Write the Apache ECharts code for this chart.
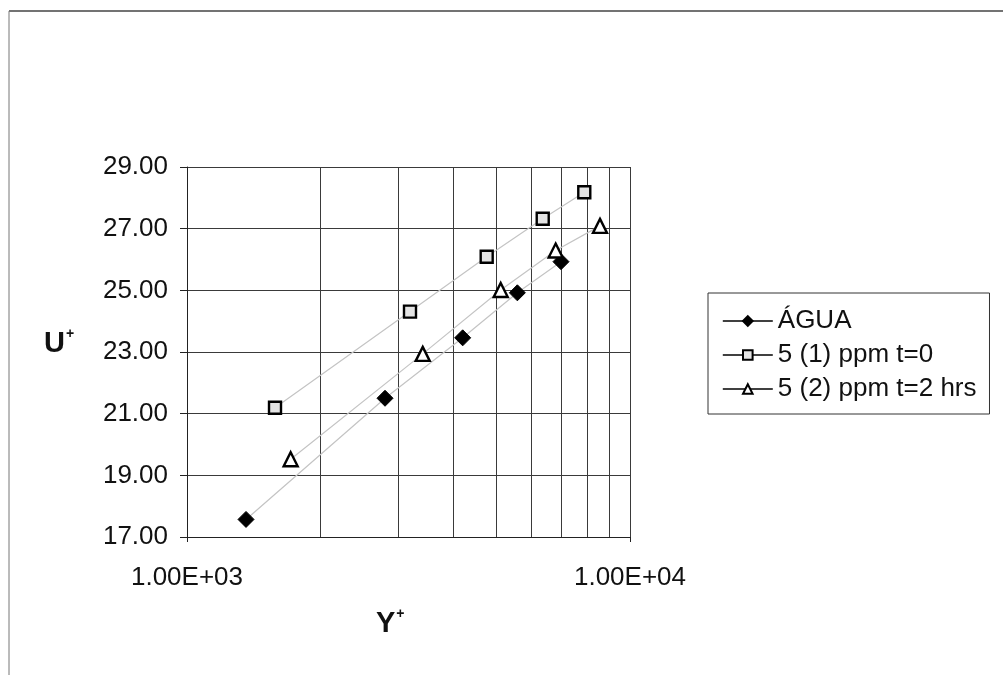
<!DOCTYPE html>
<html>
<head>
<meta charset="utf-8">
<script src="https://cdn.jsdelivr.net/npm/echarts@6/dist/echarts.min.js"></script>
<style>
  html, body { margin: 0; padding: 0; background: #fff; }
  #chart { width: 1003px; height: 675px; }
</style>
</head>
<body>
<div id="chart"></div>
<script>
// Velocity profile in wall units: U+ against Y+ (log scale)
const seriesNames = ['ÁGUA', '5 (1) ppm t=0', '5 (2) ppm t=2 hrs'];

const aguaY = [1359, 2799, 4191, 5568, 6986];
const aguaU = [17.57, 21.50, 23.46, 24.92, 25.93];

const ppm1Y = [1580, 3187, 4748, 6353, 7885];
const ppm1U = [21.19, 24.31, 26.09, 27.32, 28.18];

const ppm2Y = [1714, 3405, 5107, 6795, 8556];
const ppm2U = [19.52, 22.94, 25.01, 26.29, 27.09];

// axis ticks and their labels
const xTicks = [1000, 10000];
const xTickLabels = ['1.00E+03', '1.00E+04'];
const yTicks = [17, 19, 21, 23, 25, 27, 29];
// minor vertical gridlines of the log axis
const xMinorGrid = [2000, 3000, 4000, 5000, 6000, 7000, 8000, 9000];

const FONT = "'Liberation Sans', Arial, sans-serif";
const pairs = (xs, ys) => xs.map((x, i) => [x, ys[i]]);

const chart = echarts.init(document.getElementById('chart'), null, { renderer: 'canvas' });

const gridColor = '#3a3a3a';

chart.setOption({
  backgroundColor: '#ffffff',
  animation: false,
  textStyle: { fontFamily: FONT },
  grid: { left: 187, top: 167, width: 443, height: 370, containLabel: false },
  xAxis: {
    type: 'log',
    logBase: 10,
    min: xTicks[0],
    max: xTicks[xTicks.length - 1],
    axisLine: { show: true, lineStyle: { color: '#222', width: 1 } },
    axisTick: { show: true, length: 5, inside: false, lineStyle: { color: '#222' } },
    axisLabel: {
      margin: 28,
      color: '#111',
      fontSize: 26,
      fontFamily: FONT,
      formatter: v => {
        const i = xTicks.findIndex(t => Math.abs(t - v) / t < 1e-6);
        return i >= 0 ? xTickLabels[i] : '';
      }
    },
    splitLine: { show: true, lineStyle: { color: gridColor, width: 1 } }
  },
  yAxis: {
    type: 'value',
    min: yTicks[0],
    max: yTicks[yTicks.length - 1],
    interval: 2,
    axisLine: { show: true, lineStyle: { color: '#222', width: 1 } },
    axisTick: { show: true, length: 7, inside: false, lineStyle: { color: '#222' } },
    axisLabel: {
      margin: 19,
      color: '#111',
      fontSize: 26,
      fontFamily: FONT,
      formatter: v => v.toFixed(2)
    },
    splitLine: { show: true, lineStyle: { color: gridColor, width: 1 } }
  },
  legend: {
    orient: 'vertical',
    left: 708,
    top: 293,
    padding: [15, 13, 12, 14],
    itemWidth: 50,
    itemHeight: 12,
    itemGap: 8,
    itemTextGap: 8,
    borderColor: '#333',
    borderWidth: 1,
    backgroundColor: '#ffffff',
    textStyle: { color: '#111', fontSize: 26, fontFamily: FONT },
    lineStyle: { color: '#000', width: 1.6, inactiveColor: '#000' },
    data: seriesNames
  },
  series: [
    {
      name: seriesNames[0],
      type: 'line',
      data: pairs(aguaY, aguaU),
      symbol: 'diamond',
      symbolSize: 16,
      itemStyle: { color: '#000', borderColor: '#000', borderWidth: 1 },
      lineStyle: { color: '#c4c4c4', width: 1.2 },
      z: 3
    },
    {
      name: seriesNames[1],
      type: 'line',
      data: pairs(ppm1Y, ppm1U),
      symbol: 'rect',
      symbolSize: 12,
      itemStyle: { color: '#e4e4e4', borderColor: '#000', borderWidth: 2.4 },
      lineStyle: { color: '#c4c4c4', width: 1.2 },
      z: 3
    },
    {
      name: seriesNames[2],
      type: 'line',
      data: pairs(ppm2Y, ppm2U),
      symbol: 'triangle',
      symbolSize: 14,
      itemStyle: { color: '#ffffff', borderColor: '#000', borderWidth: 2.4 },
      lineStyle: { color: '#c4c4c4', width: 1.2 },
      z: 3,
      markLine: {
        silent: true,
        symbol: 'none',
        label: { show: false },
        lineStyle: { color: gridColor, width: 1, type: 'solid' },
        data: xMinorGrid.map(x => ({ xAxis: x })),
        z: 1
      }
    }
  ],
  graphic: [
    // frame edges of the chart area
    { type: 'line', shape: { x1: 9, y1: 11, x2: 1003, y2: 11 }, style: { stroke: '#444', lineWidth: 1.5 } },
    { type: 'line', shape: { x1: 9, y1: 11, x2: 9, y2: 675 }, style: { stroke: '#777', lineWidth: 1 } },
    {
      type: 'text', left: 44, top: 327,
      style: {
        text: '{b|U}{s|+}',
        rich: {
          b: { fontSize: 29, fontWeight: 'bold', fontFamily: FONT, fill: '#111' },
          s: { fontSize: 14, fontWeight: 'bold', fontFamily: FONT, fill: '#111', verticalAlign: 'top', padding: [0, 0, 20, 1] }
        }
      }
    },
    {
      type: 'text', left: 376, top: 607,
      style: {
        text: '{b|Y}{s|+}',
        rich: {
          b: { fontSize: 29, fontWeight: 'bold', fontFamily: FONT, fill: '#111' },
          s: { fontSize: 14, fontWeight: 'bold', fontFamily: FONT, fill: '#111', verticalAlign: 'top', padding: [0, 0, 20, 1] }
        }
      }
    }
  ]
});
</script>
</body>
</html>
